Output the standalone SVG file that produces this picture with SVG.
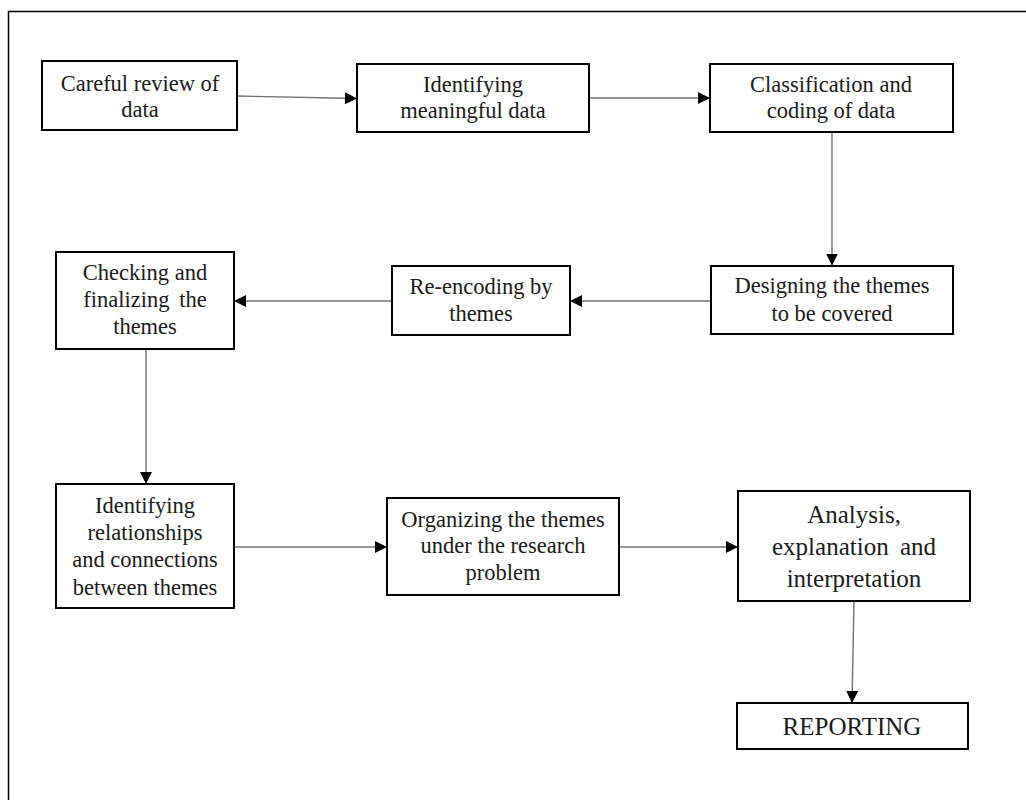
<svg xmlns="http://www.w3.org/2000/svg" width="1026" height="800" viewBox="0 0 1026 800">
  <style>
    .box { fill: #ffffff; stroke: #000000; stroke-width: 2; }
    .lbl { font-family: "Liberation Serif", "Times New Roman", serif; font-size: 22.5px; fill: #1a1a1a; text-anchor: middle; }
    .big { font-size: 25px; }
    .conn { fill: none; stroke: #707070; stroke-width: 1.4; marker-end: url(#arrow); }
    .frame { fill: none; stroke: #000000; stroke-width: 1.5; }
  </style>
  <defs>
    <marker id="arrow" markerWidth="12" markerHeight="12" viewBox="0 0 12 12" refX="12" refY="6" orient="auto" markerUnits="userSpaceOnUse">
      <path d="M0,0 L12,6 L0,12 Z" fill="#000000"/>
    </marker>
  </defs>
  <rect x="0" y="0" width="1026" height="800" fill="#ffffff"/>
  <!-- page frame -->
  <path class="frame" d="M8.5,800 V11.5 H1026"/>

  <g id="connectors">
    <line class="conn" x1="237" y1="96" x2="357" y2="98.5"/>
    <line class="conn" x1="589" y1="98" x2="710" y2="98"/>
    <line class="conn" x1="832" y1="132" x2="832" y2="265.5"/>
    <line class="conn" x1="711" y1="301" x2="570" y2="301"/>
    <line class="conn" x1="392" y1="301" x2="234" y2="301"/>
    <line class="conn" x1="146" y1="349" x2="146" y2="484"/>
    <line class="conn" x1="234" y1="547" x2="387" y2="547"/>
    <line class="conn" x1="619" y1="547" x2="738" y2="547"/>
    <line class="conn" x1="854" y1="601" x2="852" y2="703"/>
  </g>

  <g id="n1">
    <rect class="box" x="42" y="61" width="195" height="69"/>
    <text class="lbl" x="140" y="91">Careful review of</text>
    <text class="lbl" x="140" y="117">data</text>
  </g>
  <g id="n2">
    <rect class="box" x="357" y="64" width="232" height="68"/>
    <text class="lbl" x="473" y="92">Identifying</text>
    <text class="lbl" x="473" y="118">meaningful data</text>
  </g>
  <g id="n3">
    <rect class="box" x="710" y="64" width="243" height="68"/>
    <text class="lbl" x="831" y="92">Classification and</text>
    <text class="lbl" x="831" y="118">coding of data</text>
  </g>
  <g id="n4">
    <rect class="box" x="711" y="266" width="242" height="68"/>
    <text class="lbl" x="832" y="293">Designing the themes</text>
    <text class="lbl" x="832" y="321">to be covered</text>
  </g>
  <g id="n5">
    <rect class="box" x="392" y="266" width="178" height="69"/>
    <text class="lbl" x="481" y="294">Re-encoding by</text>
    <text class="lbl" x="481" y="321">themes</text>
  </g>
  <g id="n6">
    <rect class="box" x="56" y="252" width="178" height="97"/>
    <text class="lbl" x="145" y="280">Checking and</text>
    <text class="lbl" x="145" y="307" word-spacing="4">finalizing the</text>
    <text class="lbl" x="145" y="334">themes</text>
  </g>
  <g id="n7">
    <rect class="box" x="56" y="484" width="178" height="124"/>
    <text class="lbl" x="145" y="513">Identifying</text>
    <text class="lbl" x="145" y="540">relationships</text>
    <text class="lbl" x="145" y="567">and connections</text>
    <text class="lbl" x="145" y="595">between themes</text>
  </g>
  <g id="n8">
    <rect class="box" x="387" y="498" width="232" height="97"/>
    <text class="lbl" x="503" y="527">Organizing the themes</text>
    <text class="lbl" x="503" y="553">under the research</text>
    <text class="lbl" x="503" y="580">problem</text>
  </g>
  <g id="n9">
    <rect class="box" x="738" y="491" width="232" height="110"/>
    <text class="lbl big" x="854" y="523">Analysis,</text>
    <text class="lbl big" x="854" y="555" word-spacing="5">explanation and</text>
    <text class="lbl big" x="854" y="587">interpretation</text>
  </g>
  <g id="n10">
    <rect class="box" x="737" y="703" width="231" height="46"/>
    <text class="lbl big" x="852" y="735">REPORTING</text>
  </g>
</svg>
